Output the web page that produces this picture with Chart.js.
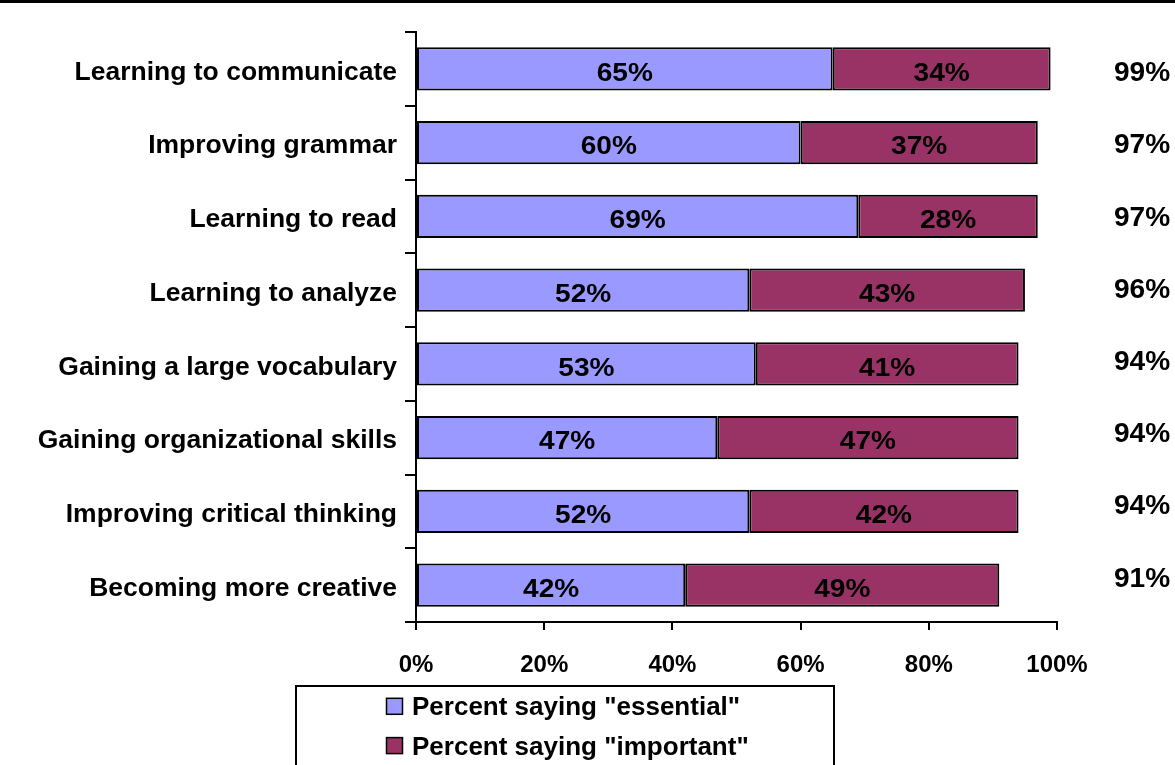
<!DOCTYPE html>
<html>
<head>
<meta charset="utf-8">
<script src="https://cdn.jsdelivr.net/npm/chart.js@4/dist/chart.umd.min.js"></script>
<style>
  html, body { margin: 0; padding: 0; background: #ffffff; }
  #wrap { width: 1175px; height: 765px; position: relative; }
</style>
</head>
<body>
<div id="wrap"><canvas id="chart" width="1175" height="765"></canvas></div>
<script>
// Survey items, top to bottom
const categories = [
  'Learning to communicate',
  'Improving grammar',
  'Learning to read',
  'Learning to analyze',
  'Gaining a large vocabulary',
  'Gaining organizational skills',
  'Improving critical thinking',
  'Becoming more creative'
];
const essential = [65, 60, 69, 52, 53, 47, 52, 42];
const important = [34, 37, 28, 43, 41, 47, 42, 49];
// Combined share reported for each item
const totals = [99, 97, 97, 96, 94, 94, 94, 91];
const xTicks = [0, 20, 40, 60, 80, 100];
const seriesNames = ['Percent saying "essential"', 'Percent saying "important"'];

const FONT = "'Liberation Sans', Arial, Helvetica, sans-serif";
const CAP = 0.716; // cap height of the sans face, in em

// Bold text placed by the middle of its capitals, widened by sx
function drawText(ctx, text, x, capMid, size, sx, align) {
  ctx.save();
  ctx.font = 'bold ' + size + 'px ' + FONT;
  ctx.textAlign = align;
  ctx.textBaseline = 'alphabetic';
  ctx.fillStyle = '#000';
  ctx.translate(x, capMid + size * CAP / 2);
  ctx.scale(sx, 1);
  ctx.fillText(text, 0, 0);
  ctx.restore();
}

// Axis labels, percent labels in each segment and totals at the right
const labelPlugin = {
  id: 'barLabels',
  afterDatasetsDraw(chart) {
    const ctx = chart.ctx;
    const yScale = chart.scales.y;
    const xScale = chart.scales.x;

    chart.data.labels.forEach((lab, i) => {
      drawText(ctx, lab, 397, yScale.getPixelForValue(i) + 1.8, 25, 1.06, 'right');
    });

    xTicks.forEach(v => {
      drawText(ctx, v + '%', xScale.getPixelForValue(v), 663.3, 24, 1.0, 'center');
    });

    chart.data.datasets.forEach((ds, di) => {
      const meta = chart.getDatasetMeta(di);
      meta.data.forEach((bar, i) => {
        const cx = (bar.x + bar.base) / 2;
        drawText(ctx, ds.data[i] + '%', cx, bar.y + 2.5, 26, 1.08, 'center');
      });
    });

    totals.forEach((t, i) => {
      const y = yScale.getPixelForValue(i) + 2.7 - 1.55 * i;
      drawText(ctx, t + '%', 1142, y, 27, 1.04, 'center');
    });
  }
};

// Rule across the top and the boxed legend underneath the axis
const framePlugin = {
  id: 'frame',
  afterDraw(chart) {
    const ctx = chart.ctx;
    ctx.save();
    ctx.strokeStyle = '#000';
    ctx.lineWidth = 3;
    ctx.beginPath();
    ctx.moveTo(0, 1.5);
    ctx.lineTo(chart.width, 1.5);
    ctx.stroke();

    ctx.lineWidth = 2;
    ctx.strokeRect(296, 686, 538, 100);
    const rows = [706.3, 745.6];
    chart.data.datasets.forEach((ds, di) => {
      const y = rows[di];
      ctx.fillStyle = ds.backgroundColor;
      ctx.fillRect(386.5, y - 8, 16, 16);
      ctx.lineWidth = 1.5;
      ctx.strokeStyle = '#000';
      ctx.strokeRect(386.5, y - 8, 16, 16);
      drawText(ctx, ds.label, 412, y, 25, 1.04, 'left');
    });
    ctx.restore();
  }
};

new Chart(document.getElementById('chart'), {
  type: 'bar',
  data: {
    labels: categories,
    datasets: [
      {
        label: seriesNames[0],
        data: essential,
        backgroundColor: '#9999FF',
        borderColor: '#000000',
        borderWidth: 2,
        borderSkipped: false
      },
      {
        label: seriesNames[1],
        data: important,
        backgroundColor: '#993366',
        borderColor: '#000000',
        borderWidth: 2,
        borderSkipped: false
      }
    ]
  },
  options: {
    indexAxis: 'y',
    responsive: false,
    animation: false,
    devicePixelRatio: 1,
    datasets: { bar: { categoryPercentage: 1, barPercentage: 0.585 } },
    layout: { padding: { top: 32, right: 118, left: 0, bottom: 0 } },
    plugins: {
      legend: { display: false },
      tooltip: { enabled: false }
    },
    scales: {
      x: {
        stacked: true,
        min: 0,
        max: 100,
        afterBuildTicks(scale) { scale.ticks = xTicks.map(v => ({ value: v })); },
        afterFit(scale) { scale.height = 143; },
        ticks: { display: false },
        grid: {
          drawOnChartArea: false,
          drawTicks: true,
          tickLength: 8,
          color: '#000',
          lineWidth: 2
        },
        border: { display: true, color: '#000', width: 2 }
      },
      y: {
        stacked: true,
        afterFit(scale) { scale.width = 416; },
        ticks: { display: false },
        grid: {
          offset: true,
          drawOnChartArea: false,
          drawTicks: true,
          tickLength: 11,
          color: '#000',
          lineWidth: 2
        },
        border: { display: true, color: '#000', width: 2 }
      }
    }
  },
  plugins: [labelPlugin, framePlugin]
});
</script>
</body>
</html>
